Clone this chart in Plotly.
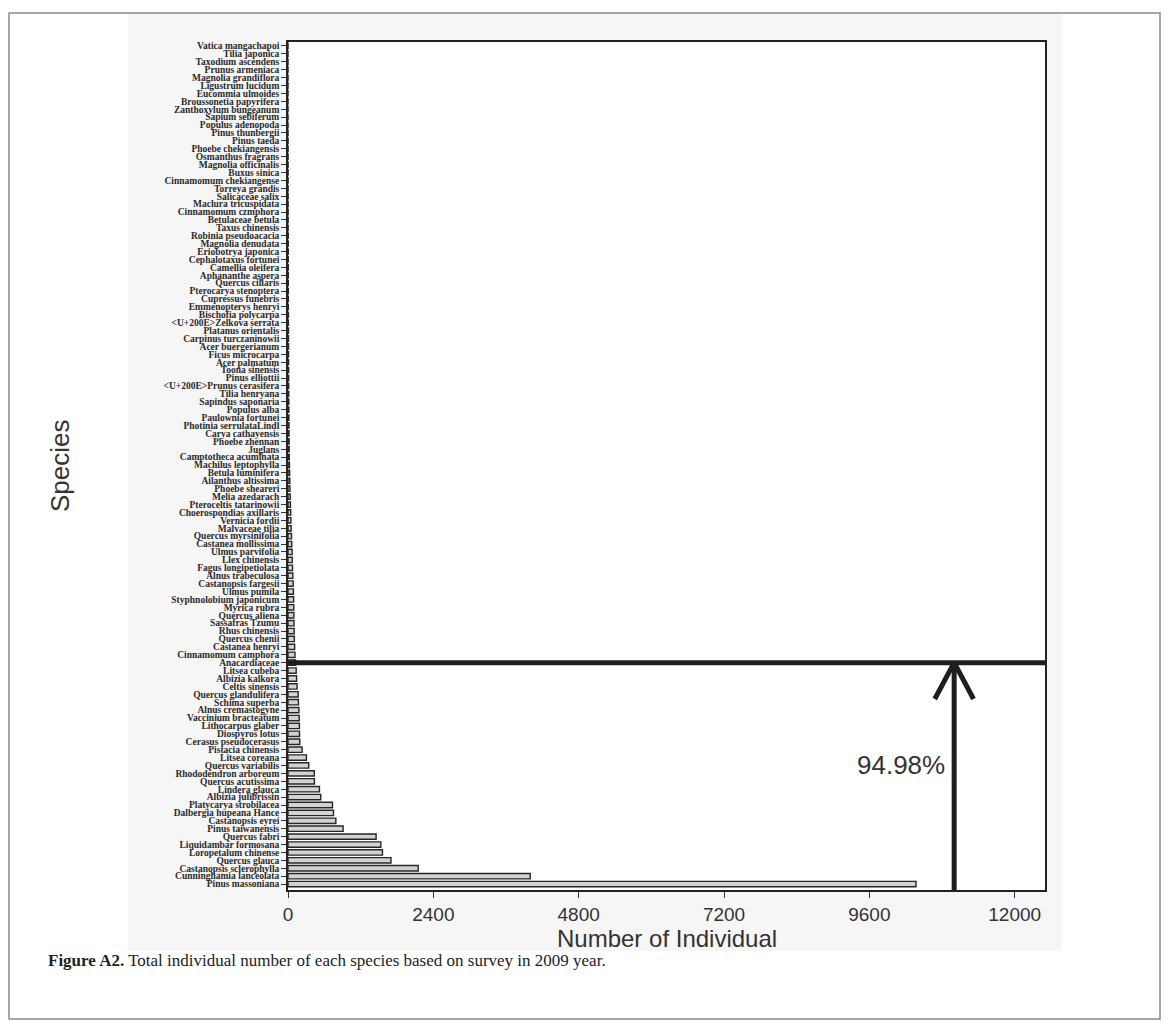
import plotly.graph_objects as go

# Species ordered from the most abundant (bottom of the chart) upward
species = [
    "Pinus massoniana", "Cunninghamia lanceolata", "Castanopsis sclerophylla", "Quercus glauca",
    "Loropetalum chinense", "Liquidambar formosana", "Quercus fabri", "Pinus taiwanensis",
    "Castanopsis eyrei", "Dalbergia hupeana Hance", "Platycarya strobilacea", "Albizia julibrissin",
    "Lindera glauca", "Quercus acutissima", "Rhododendron arboreum", "Quercus variabilis",
    "Litsea coreana", "Pistacia chinensis", "Cerasus pseudocerasus", "Diospyros lotus",
    "Lithocarpus glaber", "Vaccinium bracteatum", "Alnus cremastogyne", "Schima superba",
    "Quercus glandulifera", "Celtis sinensis", "Albizia kalkora", "Litsea cubeba",
    "Anacardiaceae", "Cinnamomum camphora", "Castanea henryi", "Quercus chenii",
    "Rhus chinensis", "Sassafras Tzumu", "Quercus aliena", "Myrica rubra",
    "Styphnolobium japonicum", "Ulmus pumila", "Castanopsis fargesii", "Alnus trabeculosa",
    "Fagus longipetiolata", "Llex chinensis", "Ulmus parvifolia", "Castanea mollissima",
    "Quercus myrsinifolia", "Malvaceae tilia", "Vernicia fordii", "Choerospondias axillaris",
    "Pteroceltis tatarinowii", "Melia azedarach", "Phoebe sheareri", "Ailanthus altissima",
    "Betula luminifera", "Machilus leptophylla", "Camptotheca acuminata", "Juglans",
    "Phoebe zhennan", "Carya cathayensis", "Photinia serrulataLindl", "Paulownia fortunei",
    "Populus alba", "Sapindus saponaria", "Tilia henryana", "<U+200E>Prunus cerasifera",
    "Pinus elliottii", "Toona sinensis", "Acer palmatum", "Ficus microcarpa",
    "Acer buergerianum", "Carpinus turczaninowii", "Platanus orientalis", "<U+200E>Zelkova serrata",
    "Bischofia polycarpa", "Emmenopterys henryi", "Cupressus funebris", "Pterocarya stenoptera",
    "Quercus ciliaris", "Aphananthe aspera", "Camellia oleifera", "Cephalotaxus fortunei",
    "Eriobotrya japonica", "Magnolia denudata", "Robinia pseudoacacia", "Taxus chinensis",
    "Betulaceae betula", "Cinnamomum czmphora", "Maclura tricuspidata", "Salicaceae salix",
    "Torreya grandis", "Cinnamomum chekiangense", "Buxus sinica", "Magnolia officinalis",
    "Osmanthus fragrans", "Phoebe chekiangensis", "Pinus taeda", "Pinus thunbergii",
    "Populus adenopoda", "Sapium sebiferum", "Zanthoxylum bungeanum", "Broussonetia papyrifera",
    "Eucommia ulmoides", "Ligustrum lucidum", "Magnolia grandiflora", "Prunus armeniaca",
    "Taxodium ascendens", "Tilia japonica", "Vatica mangachapoi",
]

individuals = [
    10370, 4000, 2150, 1700, 1560, 1533, 1455, 910,
    790, 751, 734, 541, 519, 436, 434, 342,
    304, 232, 194, 190, 188, 185, 180, 172,
    168, 150, 142, 135, 125, 115, 110, 105,
    102, 99, 97, 95, 93, 90, 85, 80,
    75, 70, 68, 62, 58, 52, 48, 45,
    40, 36, 32, 30, 27, 25, 22, 20,
    18, 17, 16, 15, 14, 13, 12, 12,
    11, 10, 10, 9, 9, 8, 8, 7,
    7, 6, 6, 6, 5, 5, 5, 4,
    4, 4, 4, 3, 3, 3, 3, 3,
    2, 2, 2, 2, 2, 2, 2, 1,
    1, 1, 1, 1, 1, 1, 1, 1,
    1, 1, 1,
]

x_ticks = [0, 2400, 4800, 7200, 9600, 12000]
x_tick_text = ["0", "2400", "4800", "7200", "9600", "12000"]

# Cumulative-share marker: species at the cut line and the arrow position
cut_species = "Anacardiaceae"
cut_share_label = "94.98%"
arrow_x = 11000

W, H = 1168, 1021
L, R, T, B = 288, 123, 42, 131
PW, PH = W - L - R, H - T - B


def px(xp):
    return (xp - L) / PW


def py(yp):
    return (H - B - yp) / PH


fig = go.Figure()

fig.add_trace(go.Bar(
    x=individuals,
    y=species,
    orientation="h",
    marker=dict(color="#d2d2d2", line=dict(color="#262626", width=1.4)),
    showlegend=False,
))

# Horizontal cut line across the plot at the cut species
fig.add_trace(go.Scatter(
    x=[0, 12500], y=[cut_species, cut_species],
    mode="lines", line=dict(color="#1e1e1e", width=5),
    showlegend=False, hoverinfo="skip", cliponaxis=False,
))

# Arrow shaft from the x axis up to the cut line
fig.add_shape(type="line", xref="x", yref="paper",
              x0=arrow_x, x1=arrow_x, y0=0, y1=py(662),
              line=dict(color="#1e1e1e", width=5))
# Open arrow head
cut_idx = species.index(cut_species)
fig.add_trace(go.Scatter(
    x=[arrow_x - 320, arrow_x, arrow_x + 320],
    y=[cut_idx - 4.6, cut_idx, cut_idx - 4.6],
    mode="lines", line=dict(color="#1e1e1e", width=5),
    showlegend=False, hoverinfo="skip", yaxis="y2",
))

fig.add_annotation(x=10120, y=cut_idx - 12.9, xref="x", yref="y2",
                   xanchor="center", yanchor="middle",
                   text=cut_share_label, showarrow=False,
                   font=dict(family="Liberation Sans, Arial", size=26, color="#333333"))

# Panel background and outer frame of the figure
fig.add_shape(type="rect", xref="paper", yref="paper", layer="below",
              x0=px(128), x1=px(1062), y0=py(951), y1=py(14),
              fillcolor="#f6f6f6", line=dict(width=0))
fig.add_shape(type="rect", xref="paper", yref="paper", layer="below",
              x0=0, x1=1, y0=0, y1=1, fillcolor="white", line=dict(width=0))
fig.add_shape(type="rect", xref="paper", yref="paper",
              x0=px(9), x1=px(1160), y0=py(1019), y1=py(13),
              line=dict(color="#8a8a8a", width=1.5))

fig.add_annotation(x=px(667), y=py(938), xref="paper", yref="paper",
                   xanchor="center", yanchor="middle",
                   text="Number of Individual", showarrow=False,
                   font=dict(family="Liberation Sans, Arial", size=24, color="#333333"))
fig.add_annotation(x=px(60), y=py(466), xref="paper", yref="paper",
                   xanchor="center", yanchor="middle",
                   text="Species", showarrow=False, textangle=-90,
                   font=dict(family="Liberation Sans, Arial", size=26, color="#333333"))
fig.add_annotation(x=px(46), y=py(961), xref="paper", yref="paper",
                   xanchor="left", yanchor="middle", align="left",
                   text="<b>Figure A2.</b> Total individual number of each species based on survey in 2009 year.",
                   showarrow=False,
                   font=dict(family="Liberation Serif, Times New Roman", size=17, color="#222222"))

yrange = [-0.75, len(species) - 0.5]

fig.update_layout(
    width=W, height=H,
    margin=dict(l=L, r=R, t=T, b=B, pad=0),
    paper_bgcolor="white",
    plot_bgcolor="rgba(0,0,0,0)",
    bargap=0.32,
    xaxis=dict(
        range=[0, 12500], tickmode="array", tickvals=x_ticks, ticktext=x_tick_text,
        ticks="outside", ticklen=6,
        tickwidth=1.3, tickcolor="#333333", showgrid=False, zeroline=False,
        showline=True, linecolor="#222222", linewidth=1.6, mirror=True,
        tickfont=dict(family="Liberation Sans, Arial", size=19, color="#333333"),
    ),
    yaxis=dict(
        type="category", categoryorder="array", categoryarray=species,
        range=yrange, tickmode="array", tickvals=species, ticktext=species,
        ticks="outside", ticklen=5, tickwidth=1.3, tickcolor="#333333",
        showgrid=False, zeroline=False, showline=True, linecolor="#222222",
        linewidth=1.6, mirror=True,
        tickfont=dict(family="Liberation Serif, Times New Roman", size=9.5,
                      color="#2a2a2a", weight="bold"),
    ),
    yaxis2=dict(overlaying="y", range=yrange, visible=False),
)

fig.write_html("out.html")
